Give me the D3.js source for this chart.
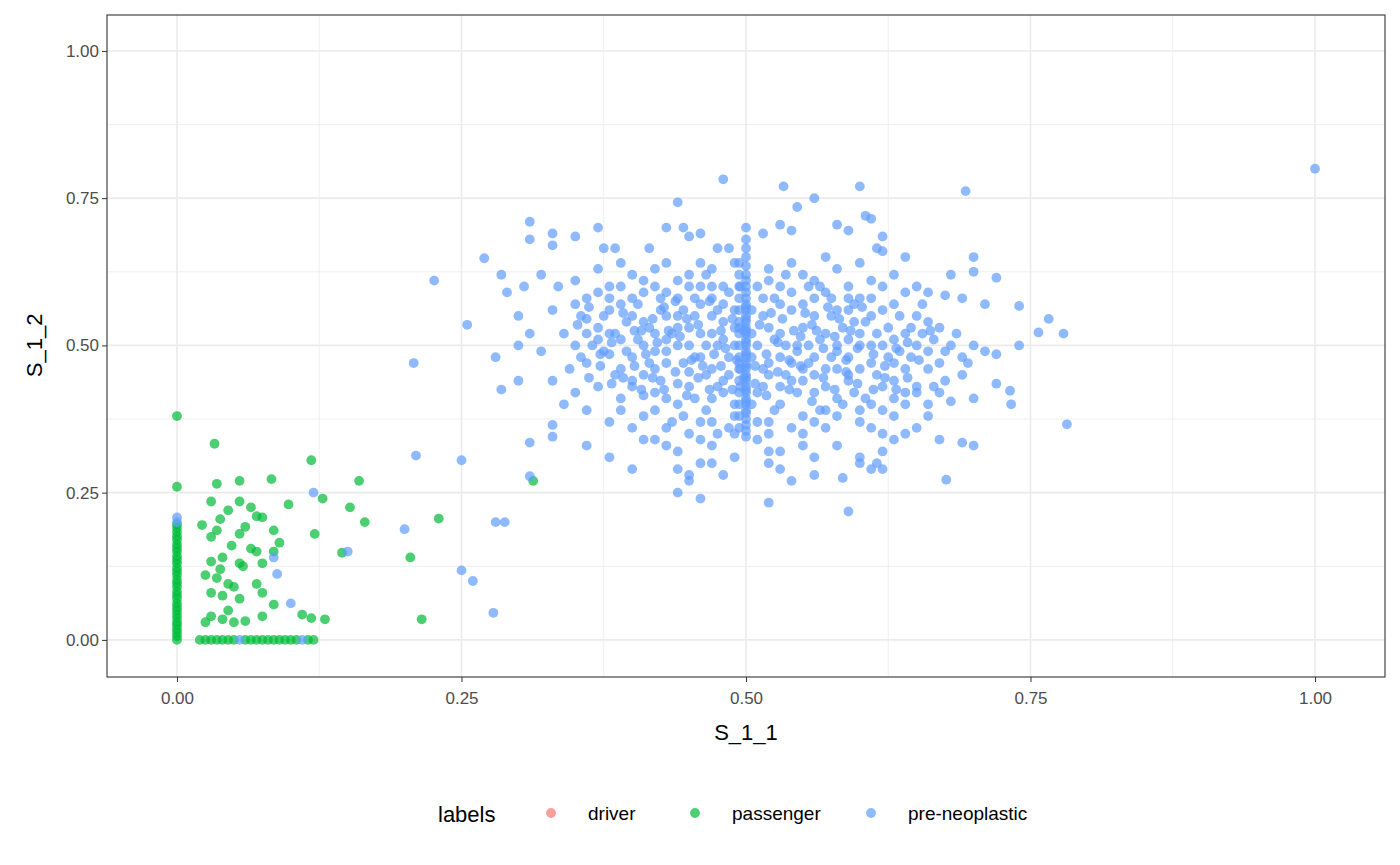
<!DOCTYPE html>
<html>
<head>
<meta charset="utf-8">
<script src="https://cdn.jsdelivr.net/npm/d3@7"></script>
<style>
  body { margin: 0; background: #fff; font-family: "Liberation Sans", Arial, sans-serif; }
</style>
</head>
<body>
<svg id="chart" width="1400" height="865"></svg>
<script>
// categories and colours
const labels = ["driver", "passenger", "pre-neoplastic"];
const colors = ["#F8766D", "#00BA38", "#619CFF"];
const ticks = [0, 0.25, 0.5, 0.75, 1.0];
const tickLabels = ["0.00", "0.25", "0.50", "0.75", "1.00"];

// passenger points [S_1_1, S_1_2]
const passengerCol = [0,0.006,0.012,0.018,0.025,0.03,0.037,0.043,0.05,0.056,0.062,0.07,0.076,0.082,0.09,0.096,0.102,0.11,0.116,0.122,0.13,0.136,0.142,0.15,0.156,0.162,0.17,0.176,0.183,0.19,0.196,0.26,0.38];
const passengerRow = [0.02,0.025,0.03,0.035,0.04,0.045,0.05,0.06,0.065,0.07,0.075,0.08,0.085,0.09,0.095,0.1,0.105,0.115,0.12];
const passengerScatter = [[0.033,0.333],[0.118,0.305],[0.083,0.273],[0.16,0.27],[0.313,0.27],[0.035,0.265],[0.055,0.27],[0.03,0.235],[0.055,0.235],[0.045,0.22],[0.098,0.23],[0.152,0.225],[0.065,0.225],[0.07,0.21],[0.075,0.208],[0.038,0.205],[0.165,0.2],[0.23,0.206],[0.022,0.195],[0.035,0.186],[0.06,0.192],[0.085,0.186],[0.121,0.18],[0.128,0.24],[0.03,0.175],[0.055,0.18],[0.09,0.165],[0.065,0.155],[0.07,0.15],[0.085,0.15],[0.145,0.148],[0.205,0.14],[0.03,0.133],[0.055,0.13],[0.075,0.13],[0.038,0.12],[0.058,0.125],[0.035,0.105],[0.045,0.095],[0.05,0.09],[0.07,0.095],[0.03,0.08],[0.04,0.075],[0.075,0.08],[0.055,0.07],[0.085,0.06],[0.03,0.04],[0.04,0.035],[0.05,0.03],[0.06,0.032],[0.075,0.04],[0.11,0.043],[0.118,0.037],[0.13,0.035],[0.215,0.035],[0.025,0.03],[0.04,0.14],[0.048,0.16],[0.025,0.11],[0.045,0.05]];

// pre-neoplastic points
const preOutliers = [[1.0,0.80],[0.782,0.366],[0.226,0.61],[0.208,0.47],[0.21,0.313],[0.25,0.305],[0.12,0.25],[0.2,0.188],[0.15,0.15],[0.088,0.112],[0.1,0.062],[0.25,0.118],[0.26,0.1],[0.278,0.046],[0.28,0.2],[0.288,0.2],[0.085,0.14],[0.055,0.0],[0.11,0.0],[0,0.2],[0,0.208],[0.693,0.762],[0.48,0.782],[0.533,0.77],[0.6,0.77],[0.44,0.743],[0.31,0.71],[0.766,0.545],[0.757,0.522],[0.779,0.52],[0.74,0.5],[0.733,0.4],[0.732,0.423],[0.74,0.567],[0.72,0.615],[0.676,0.272],[0.59,0.218],[0.52,0.233],[0.46,0.24],[0.44,0.25],[0.31,0.278],[0.255,0.535],[0.27,0.648],[0.285,0.62],[0.29,0.59],[0.28,0.48],[0.285,0.425],[0.3,0.44],[0.31,0.335],[0.33,0.365],[0.33,0.345]];
const preColumn = [0.345,0.355,0.365,0.375,0.385,0.39,0.4,0.405,0.41,0.42,0.425,0.43,0.44,0.445,0.45,0.46,0.465,0.47,0.48,0.485,0.49,0.5,0.505,0.51,0.52,0.525,0.53,0.54,0.545,0.55,0.56,0.565,0.57,0.58,0.59,0.6,0.61,0.62,0.635,0.65,0.665,0.68,0.7];
const preColumn2 = [0.36,0.38,0.4,0.42,0.44,0.46,0.47,0.48,0.5,0.52,0.53,0.54,0.56,0.58,0.6,0.62,0.64];
const preBulk = [
[0.31,0.68],[0.33,0.69],[0.33,0.67],[0.35,0.685],[0.37,0.7],[0.375,0.665],[0.385,0.665],[0.415,0.665],[0.43,0.7],[0.445,0.7],[0.45,0.685],[0.46,0.69],[0.475,0.665],[0.485,0.665],[0.515,0.69],[0.53,0.705],[0.54,0.695],[0.56,0.75],[0.545,0.735],[0.58,0.705],[0.59,0.695],[0.605,0.72],[0.61,0.715],[0.615,0.665],[0.62,0.685],
[0.3,0.55],[0.305,0.6],[0.32,0.62],[0.335,0.6],[0.35,0.61],[0.36,0.58],[0.37,0.63],[0.38,0.6],[0.39,0.64],[0.4,0.62],[0.41,0.59],[0.42,0.63],[0.43,0.64],[0.44,0.61],[0.45,0.62],[0.46,0.64],[0.47,0.63],[0.48,0.6],[0.49,0.64],[0.52,0.63],[0.53,0.6],[0.54,0.64],[0.55,0.62],[0.56,0.61],[0.57,0.65],[0.58,0.63],[0.59,0.6],[0.6,0.64],[0.61,0.61],[0.62,0.66],[0.63,0.62],[0.64,0.65],[0.65,0.6],[0.66,0.59],[0.68,0.62],[0.7,0.65],[0.7,0.625],[0.71,0.57],[0.69,0.58],[0.675,0.585],
[0.3,0.5],[0.31,0.52],[0.32,0.49],[0.33,0.56],[0.34,0.52],[0.35,0.5],[0.355,0.55],[0.36,0.47],[0.37,0.53],[0.375,0.49],[0.38,0.56],[0.385,0.45],[0.39,0.51],[0.395,0.54],[0.4,0.48],[0.405,0.57],[0.41,0.5],[0.415,0.53],[0.42,0.46],[0.425,0.56],[0.43,0.49],[0.435,0.52],[0.44,0.55],[0.445,0.47],[0.45,0.5],[0.455,0.58],[0.46,0.52],[0.465,0.45],[0.47,0.55],[0.475,0.5],[0.48,0.57],[0.485,0.48],[0.49,0.53],[0.495,0.46],
[0.51,0.5],[0.515,0.55],[0.52,0.47],[0.525,0.58],[0.53,0.52],[0.535,0.45],[0.54,0.56],[0.545,0.49],[0.55,0.53],[0.555,0.47],[0.56,0.58],[0.565,0.51],[0.57,0.46],[0.575,0.55],[0.58,0.49],[0.585,0.53],[0.59,0.45],[0.595,0.57],[0.6,0.5],[0.605,0.54],[0.61,0.47],[0.615,0.52],[0.62,0.56],[0.625,0.48],[0.63,0.51],[0.635,0.55],[0.64,0.46],[0.645,0.53],[0.65,0.5],[0.655,0.57],[0.66,0.49],[0.67,0.53],[0.68,0.5],[0.69,0.48],[0.7,0.5],[0.71,0.49],[0.72,0.485],[0.695,0.47],[0.675,0.44],[0.665,0.43],[0.72,0.435],[0.7,0.41],[0.68,0.405],
[0.33,0.44],[0.34,0.4],[0.35,0.42],[0.36,0.39],[0.37,0.43],[0.38,0.37],[0.39,0.41],[0.4,0.44],[0.41,0.38],[0.42,0.42],[0.43,0.36],[0.44,0.4],[0.45,0.43],[0.46,0.37],[0.47,0.41],[0.48,0.44],[0.49,0.38],[0.51,0.42],[0.52,0.37],[0.53,0.4],[0.54,0.44],[0.55,0.38],[0.56,0.42],[0.57,0.36],[0.58,0.41],[0.59,0.44],[0.6,0.37],[0.61,0.4],[0.62,0.43],[0.63,0.38],[0.64,0.42],[0.65,0.36],[0.66,0.4],
[0.36,0.33],[0.38,0.31],[0.4,0.29],[0.42,0.34],[0.44,0.32],[0.45,0.28],[0.46,0.3],[0.47,0.33],[0.48,0.28],[0.49,0.31],[0.52,0.32],[0.53,0.29],[0.54,0.27],[0.55,0.33],[0.56,0.31],[0.58,0.33],[0.6,0.3],[0.61,0.29],[0.62,0.32],[0.63,0.34],[0.64,0.35],[0.67,0.34],[0.69,0.335],[0.7,0.33],[0.585,0.275],[0.53,0.32],
[0.44,0.58],[0.46,0.57],[0.47,0.52],[0.48,0.51],[0.45,0.53],[0.43,0.47],[0.41,0.45],[0.525,0.51],[0.545,0.5],[0.56,0.48],[0.57,0.52],[0.58,0.5],[0.6,0.52],[0.59,0.51],[0.55,0.46],[0.53,0.48],[0.52,0.53],[0.515,0.46],[0.505,0.52],[0.505,0.48],[0.42,0.52],[0.4,0.55],[0.38,0.52],[0.36,0.52],[0.62,0.5],[0.64,0.52],[0.63,0.47],[0.61,0.55],[0.59,0.56],[0.57,0.59],[0.555,0.6],[0.47,0.6],[0.45,0.6],[0.43,0.59],
[0.35,0.57],[0.36,0.545],[0.37,0.51],[0.38,0.485],[0.39,0.46],[0.4,0.43],[0.41,0.415],[0.42,0.39],[0.43,0.41],[0.44,0.435],[0.45,0.455],[0.46,0.48],[0.47,0.46],[0.48,0.42],[0.49,0.4],[0.485,0.36],[0.475,0.35],[0.465,0.39],[0.455,0.41],[0.445,0.38],[0.435,0.37],[0.425,0.44],[0.415,0.47],[0.405,0.51],[0.395,0.49],[0.385,0.52],[0.375,0.55],[0.365,0.5],[0.355,0.48],[0.345,0.46],
[0.505,0.4],[0.51,0.37],[0.515,0.43],[0.52,0.45],[0.525,0.39],[0.53,0.43],[0.535,0.5],[0.54,0.47],[0.545,0.42],[0.55,0.44],[0.555,0.5],[0.56,0.45],[0.565,0.39],[0.57,0.43],[0.575,0.48],[0.58,0.46],[0.585,0.4],[0.59,0.48],[0.595,0.42],[0.6,0.46],[0.605,0.41],[0.61,0.5],[0.615,0.45],[0.62,0.39],[0.625,0.53],[0.63,0.44],[0.635,0.49],[0.64,0.4],[0.645,0.48],[0.65,0.43],[0.655,0.52],[0.66,0.46],[0.665,0.51],[0.67,0.47],[0.675,0.49],[0.685,0.52],[0.69,0.45],
[0.505,0.56],[0.51,0.6],[0.515,0.58],[0.52,0.61],[0.53,0.57],[0.535,0.62],[0.54,0.59],[0.55,0.57],[0.56,0.55],[0.565,0.6],[0.575,0.58],[0.58,0.56],[0.59,0.58],[0.595,0.54],[0.6,0.58],[0.61,0.58],[0.62,0.6],[0.63,0.57],[0.64,0.59],[0.65,0.55],[0.66,0.54],
[0.42,0.6],[0.425,0.58],[0.43,0.55],[0.44,0.53],[0.445,0.56],[0.455,0.55],[0.46,0.6],[0.465,0.62],[0.47,0.58],[0.475,0.56],[0.48,0.54],[0.485,0.59],[0.49,0.56],[0.495,0.6],[0.49,0.5],[0.495,0.43],[0.485,0.45],[0.475,0.43],[0.465,0.5],[0.455,0.48],[0.44,0.5],[0.43,0.51],[0.42,0.49],[0.41,0.54],[0.4,0.58],[0.39,0.57],[0.38,0.58],[0.37,0.59],[0.39,0.6],[0.41,0.61],
[0.39,0.39],[0.4,0.36],[0.41,0.34],[0.43,0.33],[0.45,0.35],[0.46,0.34],[0.47,0.37],[0.49,0.35],[0.51,0.34],[0.52,0.35],[0.54,0.36],[0.55,0.35],[0.56,0.37],[0.57,0.39],[0.58,0.38],[0.6,0.39],[0.61,0.36],[0.62,0.35],[0.63,0.41],[0.66,0.38],[0.65,0.42],[0.67,0.42],[0.45,0.27],[0.47,0.3],[0.44,0.29],[0.52,0.3],[0.56,0.28],[0.6,0.31],[0.615,0.3],[0.62,0.29],
[0.402,0.465],[0.412,0.485],[0.422,0.505],[0.432,0.525],[0.442,0.515],[0.452,0.475],[0.462,0.465],[0.472,0.485],[0.482,0.495],[0.492,0.475],[0.408,0.525],[0.418,0.545],[0.428,0.565],[0.438,0.575],[0.448,0.545],[0.458,0.535],[0.468,0.575],[0.478,0.525],[0.488,0.545],[0.498,0.525],
[0.508,0.465],[0.518,0.485],[0.528,0.505],[0.538,0.475],[0.548,0.515],[0.558,0.535],[0.568,0.495],[0.578,0.515],[0.588,0.475],[0.598,0.495],[0.512,0.535],[0.522,0.555],[0.532,0.545],[0.542,0.525],[0.552,0.555],[0.562,0.525],[0.572,0.565],[0.582,0.545],[0.592,0.525],[0.602,0.565],
[0.408,0.425],[0.418,0.445],[0.428,0.425],[0.438,0.455],[0.448,0.415],[0.458,0.445],[0.468,0.425],[0.478,0.465],[0.488,0.425],[0.498,0.445],[0.508,0.435],[0.518,0.415],[0.528,0.455],[0.538,0.425],[0.548,0.465],[0.558,0.405],[0.568,0.445],[0.578,0.425],[0.588,0.455],[0.598,0.435],
[0.612,0.485],[0.622,0.465],[0.632,0.495],[0.642,0.505],[0.652,0.475],[0.662,0.525],[0.612,0.425],[0.622,0.445],[0.632,0.425],[0.642,0.445],[0.382,0.435],[0.372,0.465],[0.362,0.445],[0.392,0.445],[0.382,0.505],[0.372,0.485],[0.362,0.565],[0.352,0.535],[0.392,0.555],[0.402,0.525]
];

const W = 1400, H = 865;
const margin = { left: 107, right: 15, top: 15, bottom: 188 };
const svg = d3.select("#chart");

const x = d3.scaleLinear().domain([-0.0615, 1.0615]).range([margin.left, W - margin.right]);
const y = d3.scaleLinear().domain([-0.063, 1.061]).range([H - margin.bottom, margin.top]);

// grid
const g = svg.append("g");
const minor = [0.125, 0.375, 0.625, 0.875];
g.selectAll(".vmin").data(minor).enter().append("line")
  .attr("x1", d => x(d)).attr("x2", d => x(d)).attr("y1", y.range()[0]).attr("y2", y.range()[1])
  .attr("stroke", "#ebebeb").attr("stroke-width", 0.8);
g.selectAll(".hmin").data(minor).enter().append("line")
  .attr("y1", d => y(d)).attr("y2", d => y(d)).attr("x1", x.range()[0]).attr("x2", x.range()[1])
  .attr("stroke", "#ebebeb").attr("stroke-width", 0.8);
g.selectAll(".vmaj").data(ticks).enter().append("line")
  .attr("x1", d => x(d)).attr("x2", d => x(d)).attr("y1", y.range()[0]).attr("y2", y.range()[1])
  .attr("stroke", "#ebebeb").attr("stroke-width", 1.6);
g.selectAll(".hmaj").data(ticks).enter().append("line")
  .attr("y1", d => y(d)).attr("y2", d => y(d)).attr("x1", x.range()[0]).attr("x2", x.range()[1])
  .attr("stroke", "#ebebeb").attr("stroke-width", 1.6);

// points
const passenger = passengerCol.map(v => [0, v])
  .concat(passengerRow.map(v => [v, 0]))
  .concat(passengerScatter);
const pre = preOutliers.concat(preColumn.map(v => [0.5, v]))
  .concat(preColumn2.map(v => [0.494, v])).concat(preBulk);

function drawPoints(data, color) {
  svg.append("g").selectAll("circle").data(data).enter().append("circle")
    .attr("cx", d => x(d[0])).attr("cy", d => y(d[1])).attr("r", 4.9)
    .attr("fill", color).attr("fill-opacity", 0.7);
}
drawPoints(passenger, colors[1]);
drawPoints(pre, colors[2]);

// panel border
svg.append("rect").attr("x", margin.left).attr("y", margin.top)
  .attr("width", W - margin.left - margin.right).attr("height", H - margin.top - margin.bottom)
  .attr("fill", "none").attr("stroke", "#333").attr("stroke-width", 1.1);

// axes
const xAxis = svg.append("g").attr("transform", `translate(0,${H - margin.bottom})`)
  .call(d3.axisBottom(x).tickValues(ticks).tickFormat((d, i) => tickLabels[i]).tickSize(5));
const yAxis = svg.append("g").attr("transform", `translate(${margin.left},0)`)
  .call(d3.axisLeft(y).tickValues(ticks).tickFormat((d, i) => tickLabels[i]).tickSize(5));
[xAxis, yAxis].forEach(a => {
  a.select(".domain").remove();
  a.selectAll(".tick line").attr("stroke", "#333");
  a.selectAll("text").attr("fill", "#4d4d4d").style("font-size", "17px").style("font-family", "Liberation Sans, Arial, sans-serif");
});
xAxis.selectAll("text").attr("dy", "1.1em");

svg.append("text").attr("x", x(0.5)).attr("y", 740).attr("text-anchor", "middle")
  .style("font-size", "22px").text("S_1_1");
svg.append("text").attr("transform", `translate(42,${y(0.5)}) rotate(-90)`).attr("text-anchor", "middle")
  .style("font-size", "22px").text("S_1_2");

// legend
const leg = svg.append("g");
leg.append("text").attr("x", 438).attr("y", 822).style("font-size", "22px").text("labels");
const legX = [551, 695, 871];
labels.forEach((l, i) => {
  leg.append("circle").attr("cx", legX[i]).attr("cy", 813).attr("r", 4.9)
    .attr("fill", colors[i]).attr("fill-opacity", 0.7);
  leg.append("text").attr("x", legX[i] + 37).attr("y", 820).style("font-size", "19px").text(l);
});
</script>
</body>
</html>
